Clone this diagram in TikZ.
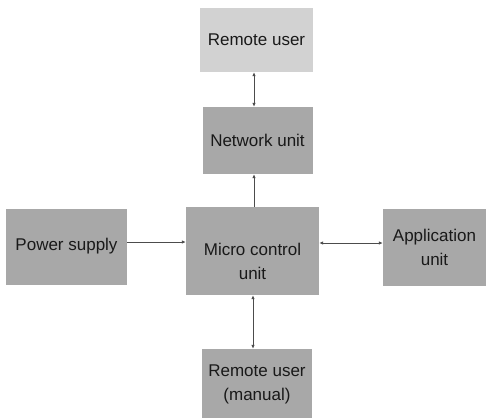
\documentclass[tikz,border=0pt]{standalone}
\usepackage{fontspec}
\setmainfont{Liberation Sans}
\usetikzlibrary{arrows.meta}
\begin{document}
\begin{tikzpicture}[x=1pt,y=-1pt,
  blk/.style={draw=none,fill=boxgray,inner sep=0pt,align=center,font=\fontsize{17}{24}\selectfont,text=black!90},
  conn/.style={draw=black!70,line width=0.8pt,-{Latex[length=4pt,width=3.5pt]}},
  bconn/.style={draw=black!70,line width=0.8pt,{Latex[length=4pt,width=3.5pt]}-{Latex[length=4pt,width=3.5pt]}}]
\definecolor{boxgray}{HTML}{A8A8A8}
\definecolor{lightgray2}{HTML}{D2D2D2}
\useasboundingbox[fill=white] (0,0) rectangle (486,417);
\node[blk,fill=lightgray2,minimum width=113pt,minimum height=64pt] (ru) at (256.5,40) {Remote user};
\node[blk,minimum width=110pt,minimum height=67pt] (nu) at (257.5,140.5) {Network unit};
\node[blk,minimum width=133pt,minimum height=88pt,
  label={[font=\fontsize{17}{24}\selectfont,align=center,text=black!90,yshift=-10pt]center:Micro control\\unit}] (mc) at (252.5,251) {};
\node[blk,minimum width=121pt,minimum height=76pt] (ps) at (66.5,246.5) {Power supply};
\node[blk,minimum width=103pt,minimum height=77pt] (au) at (434.5,247.5) {Application\\unit};
\node[blk,minimum width=110pt,minimum height=70pt] (rm) at (257,384) {Remote user\\(manual)};
\draw[bconn] (nu.north -| 254,0) -- (ru.south -| 254,0);
\draw[conn] (mc.north -| 254,0) -- (nu.south -| 254,0);
\draw[conn] (ps.east |- 0,242) -- (mc.west |- 0,242);
\draw[bconn] (mc.east |- 0,243) -- (au.west |- 0,243);
\draw[bconn] (mc.south -| 253,0) -- (rm.north -| 253,0);
\end{tikzpicture}
\end{document}
